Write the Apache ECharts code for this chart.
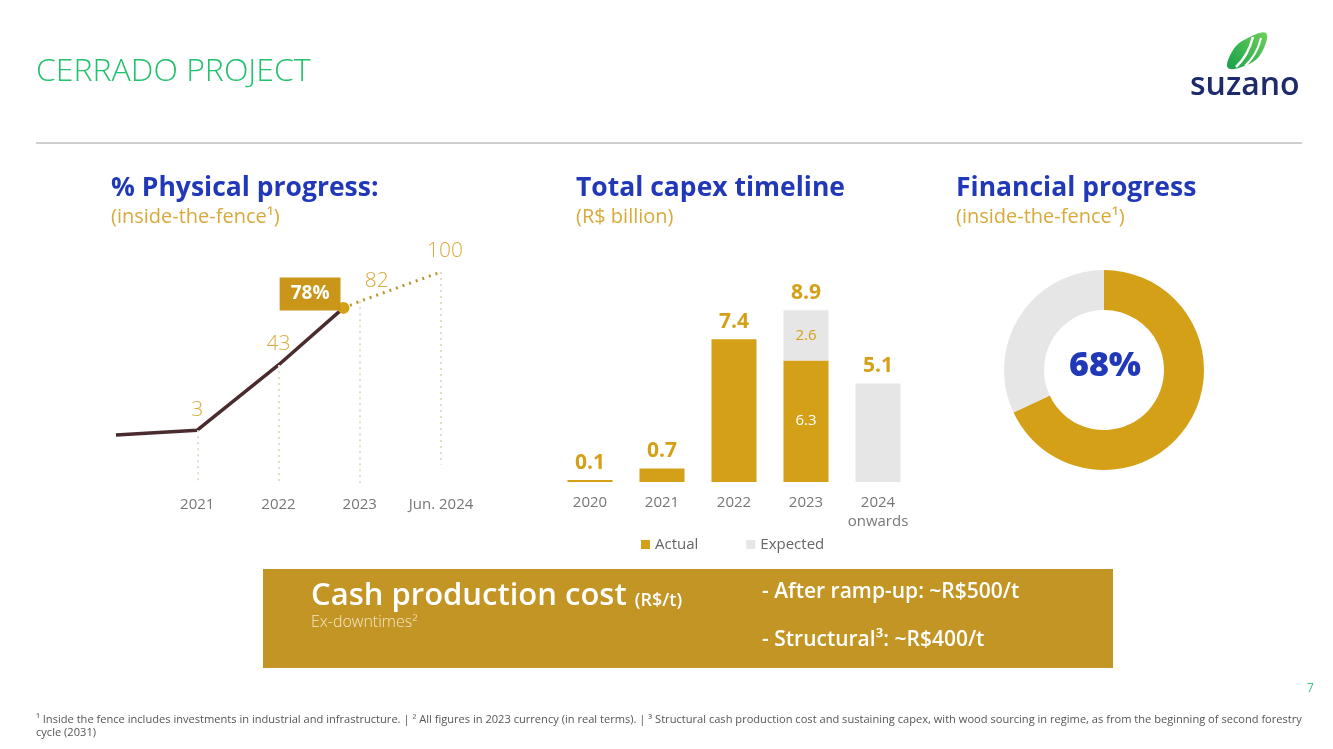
<!DOCTYPE html>
<html>
<head>
<meta charset="utf-8">
<title>Cerrado project</title>
<script src="https://cdn.jsdelivr.net/npm/echarts@6/dist/echarts.min.js"></script>
<style>
  html, body { margin: 0; padding: 0; background: #fff; }
  #main { width: 1333px; height: 749px; }
</style>
</head>
<body>
<div id="main"></div>
<script>
// physical progress (%)
const progressTicks = ['', '2021', '2022', '2023', 'Jun. 2024'];
const actualX = [0, 1, 2, 2.8];
const actualPct = [0, 3, 43, 78];
const plannedX = [2.8, 3, 4];
const plannedPct = [78, 82, 100];
const dropBottoms = [-30, -30, -30, -18];

// capex (R$ billion)
const capexYears = ['2020', '2021', '2022', '2023', '2024\nonwards'];
const capexActual = [0.1, 0.7, 7.4, 6.3, 0];
const capexExpected = [0, 0, 0, 2.6, 5.1];
const capexTotal = [0.1, 0.7, 7.4, 8.9, 5.1];

// financial progress (%)
const financialDone = 68;

const GOLD = '#d4a017';
const BLUE = '#2138b8';
const FONT = '"Open Sans", "Noto Sans", sans-serif';

const chart = echarts.init(document.getElementById('main'));

const actualPoints = actualX.map((x, i) => [x, actualPct[i]]);
const plannedPoints = plannedX.map((x, i) => [x, plannedPct[i]]);

// vertical dotted guides under each labelled point
const dropTops = [[1, 3], [2, 43], [3, 82], [4, 100]];
const dropLines = dropTops.map((p, i) => [
  { coord: p },
  { coord: [p[0], dropBottoms[i]] }
]);

const valueLabel = {
  show: true,
  position: 'top',
  distance: 10,
  color: '#d8aa3a',
  fontSize: 21,
  fontWeight: 300,
  fontFamily: FONT
};

const option = {
  animation: false,
  backgroundColor: '#fff',
  textStyle: { fontFamily: FONT },
  grid: [
    { left: 116, top: 272, width: 325, height: 212 },
    { left: 554, top: 289, width: 360, height: 193 }
  ],
  xAxis: [
    {
      gridIndex: 0,
      type: 'value',
      min: 0,
      max: 4,
      interval: 1,
      axisLine: { show: false },
      axisTick: { show: false },
      splitLine: { show: false },
      axisLabel: {
        color: '#777',
        fontSize: 15,
        margin: 13,
        formatter: v => progressTicks[v] || ''
      }
    },
    {
      gridIndex: 1,
      type: 'category',
      data: capexYears,
      axisLine: { show: false },
      axisTick: { show: false },
      axisLabel: { interval: 0, color: '#777', fontSize: 15, margin: 11, lineHeight: 19 }
    }
  ],
  yAxis: [
    { gridIndex: 0, type: 'value', min: -30, max: 100, show: false },
    { gridIndex: 1, type: 'value', min: 0, max: 10, show: false }
  ],
  legend: {
    data: ['Actual', 'Expected'],
    left: 636,
    top: 532,
    icon: 'rect',
    itemWidth: 9,
    itemHeight: 9,
    itemGap: 48,
    textStyle: { color: '#666', fontSize: 15, fontFamily: FONT }
  },
  series: [
    {
      name: 'progress',
      type: 'line',
      xAxisIndex: 0,
      yAxisIndex: 0,
      symbol: 'circle',
      symbolSize: 0,
      showSymbol: true,
      data: actualPoints.map((p, i) => {
        if (i === 0) return { value: p, label: { show: false } };
        if (i === actualPoints.length - 1) {
          return {
            value: p,
            symbolSize: 12,
            itemStyle: { color: GOLD },
            label: {
              show: true,
              position: 'left',
              distance: -3,
              offset: [0, -14],
              formatter: p[1] + '%',
              color: '#fff',
              fontWeight: 'bold',
              fontSize: 19,
              backgroundColor: '#c9961a',
              padding: [7, 11, 7, 11]
            }
          };
        }
        return { value: p, label: valueLabel };
      }),
      lineStyle: { color: '#4a2b2e', width: 3.5 },
      z: 3,
      markLine: {
        silent: true,
        symbol: 'none',
        label: { show: false },
        lineStyle: { color: '#e6dcc6', type: [2, 4], width: 2 },
        data: dropLines
      }
    },
    {
      name: 'planned',
      type: 'line',
      xAxisIndex: 0,
      yAxisIndex: 0,
      symbol: 'circle',
      symbolSize: 0,
      showSymbol: true,
      data: plannedPoints.map((p, i) => {
        if (i === 0) return { value: p, label: { show: false } };
        return {
          value: p,
          label: Object.assign({}, valueLabel, { offset: [i === 1 ? 17 : 4, 0] })
        };
      }),
      lineStyle: { color: '#b8962e', width: 3, type: [2, 5] },
      z: 2
    },
    {
      name: 'Actual',
      type: 'bar',
      xAxisIndex: 1,
      yAxisIndex: 1,
      stack: 'capex',
      barWidth: 45,
      itemStyle: { color: GOLD },
      data: capexActual.map((v, i) => ({
        value: v,
        label: { show: i === 3, position: 'inside', color: '#fff', fontSize: 15 }
      }))
    },
    {
      name: 'Expected',
      type: 'bar',
      xAxisIndex: 1,
      yAxisIndex: 1,
      stack: 'capex',
      barWidth: 45,
      itemStyle: { color: '#e6e6e6' },
      data: capexExpected.map((v, i) => ({
        value: v,
        label: { show: i === 3, position: 'inside', color: GOLD, fontSize: 15 }
      }))
    },
    {
      name: 'total',
      type: 'bar',
      xAxisIndex: 1,
      yAxisIndex: 1,
      barWidth: 45,
      barGap: '-100%',
      itemStyle: { color: 'rgba(0,0,0,0)' },
      silent: true,
      z: 1,
      label: {
        show: true,
        position: 'top',
        distance: 7,
        color: GOLD,
        fontSize: 21,
        fontWeight: 'bold'
      },
      data: capexTotal
    },
    {
      name: 'financial',
      type: 'pie',
      center: [1104, 370],
      radius: [60, 100],
      startAngle: 90,
      clockwise: true,
      silent: true,
      label: { show: false },
      labelLine: { show: false },
      data: [
        { value: financialDone, name: 'done', itemStyle: { color: GOLD } },
        { value: 100 - financialDone, name: 'remaining', itemStyle: { color: '#e6e6e6' } }
      ]
    }
  ],
  graphic: [
    {
      type: 'text', x: 36, y: 56,
      style: { text: 'CERRADO PROJECT', fill: '#22c16b', font: '300 32px ' + FONT }
    },
    {
      type: 'line',
      shape: { x1: 36, y1: 143, x2: 1302, y2: 143 },
      style: { stroke: '#cfcfcf', lineWidth: 2 }
    },
    // logo
    {
      type: 'polygon',
      shape: {
        points: [[1228, 68], [1233, 50], [1246, 39], [1266, 33], [1262, 52], [1249, 64]],
        smooth: 0.4
      },
      style: {
        fill: new echarts.graphic.LinearGradient(0, 1, 1, 0, [
          { offset: 0, color: '#16a04b' },
          { offset: 1, color: '#6fd05a' }
        ])
      }
    },
    {
      type: 'bezierCurve',
      shape: { x1: 1236, y1: 67, x2: 1253, y2: 37, cpx1: 1248, cpy1: 56 },
      style: { stroke: '#fff', lineWidth: 2.5, fill: null }
    },
    {
      type: 'bezierCurve',
      shape: { x1: 1245, y1: 66, x2: 1261, y2: 38, cpx1: 1257, cpy1: 55 },
      style: { stroke: '#fff', lineWidth: 2, fill: null }
    },
    {
      type: 'text', x: 1190, y: 70,
      style: { text: 'suzano', fill: '#1d2a6b', font: '600 32px ' + FONT }
    },
    // section titles
    {
      type: 'text', x: 111, y: 175,
      style: { text: '% Physical progress:', fill: BLUE, font: 'bold 26.5px ' + FONT }
    },
    {
      type: 'text', x: 111, y: 207,
      style: { text: '(inside-the-fence¹)', fill: '#d8aa3a', font: '20px ' + FONT }
    },
    {
      type: 'text', x: 576, y: 175,
      style: { text: 'Total capex timeline', fill: BLUE, font: 'bold 26.5px ' + FONT }
    },
    {
      type: 'text', x: 576, y: 207,
      style: { text: '(R$ billion)', fill: '#d8aa3a', font: '20px ' + FONT }
    },
    {
      type: 'text', x: 956, y: 175,
      style: { text: 'Financial progress', fill: BLUE, font: 'bold 26.5px ' + FONT }
    },
    {
      type: 'text', x: 956, y: 207,
      style: { text: '(inside-the-fence¹)', fill: '#d8aa3a', font: '20px ' + FONT }
    },
    {
      type: 'text', x: 1105, y: 366,
      style: {
        text: financialDone + '%', fill: BLUE, font: '800 34px ' + FONT,
        align: 'center', verticalAlign: 'middle'
      }
    },
    // cash cost box
    {
      type: 'rect',
      shape: { x: 263, y: 569, width: 850, height: 99 },
      style: { fill: '#c39524' }
    },
    {
      type: 'text', x: 311, y: 581,
      style: {
        text: '{a|Cash production cost }{b|(R$/t)}',
        rich: {
          a: { fill: '#fff', font: '600 31px ' + FONT },
          b: { fill: '#fff', font: '600 18px ' + FONT, padding: [8, 0, 0, 0] }
        }
      }
    },
    {
      type: 'text', x: 311, y: 614,
      style: { text: 'Ex-downtimes²', fill: '#f3e6c4', font: '300 16px ' + FONT }
    },
    {
      type: 'text', x: 762, y: 582,
      style: { text: '- After ramp-up: ~R$500/t', fill: '#fff', font: '600 21px ' + FONT }
    },
    {
      type: 'text', x: 762, y: 630,
      style: { text: '- Structural³: ~R$400/t', fill: '#fff', font: '600 21px ' + FONT }
    },
    {
      type: 'text', x: 1307, y: 683,
      style: { text: '7', fill: '#3cc07a', font: '12px ' + FONT }
    },
    {
      type: 'text', x: 36, y: 713,
      style: {
        text: '¹ Inside the fence includes investments in industrial and infrastructure. | ² All figures in 2023 currency (in real terms). | ³ Structural cash production cost and sustaining capex, with wood sourcing in regime, as from the beginning of second forestry\ncycle (2031)',
        fill: '#555',
        font: '11.1px ' + FONT,
        lineHeight: 13
      }
    }
  ]
};

chart.setOption(option);
</script>
</body>
</html>
